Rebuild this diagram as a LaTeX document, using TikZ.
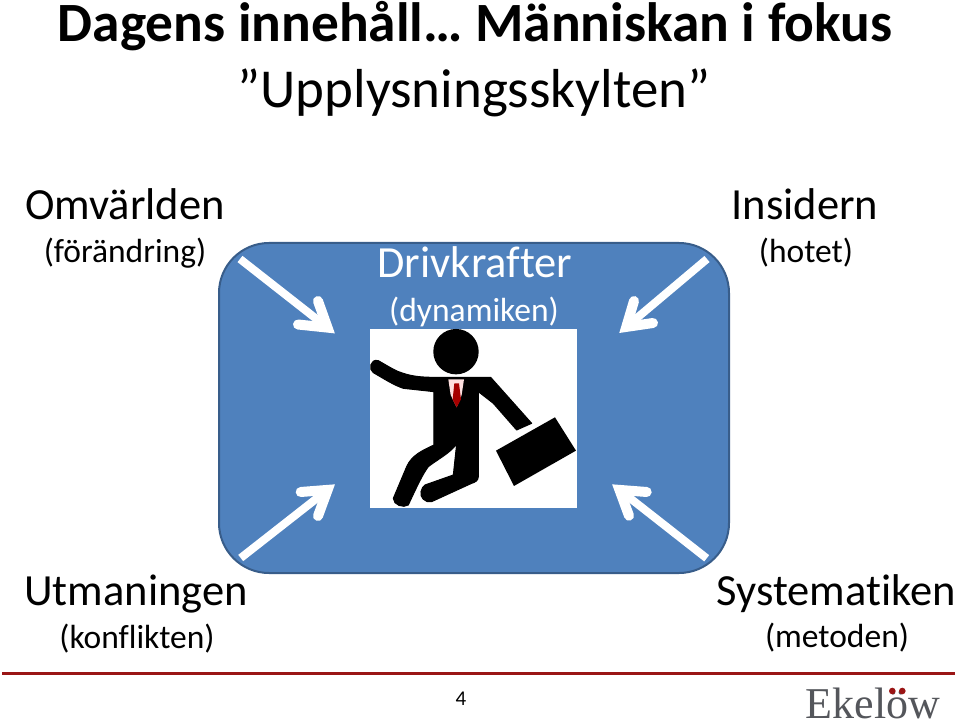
\documentclass[tikz,border=0pt]{standalone}
\usepackage{fontspec}
\setmainfont[Ligatures=NoCommon]{Carlito}
\newfontfamily\logofont{Liberation Serif}
\definecolor{panelfill}{HTML}{4F81BD}
\definecolor{paneledge}{HTML}{385D8A}
\definecolor{rulered}{HTML}{9A1515}
\definecolor{logogray}{HTML}{54565B}
\tikzset{
  px/.style={x=1pt,y=-1pt},
  txt/.style={inner sep=0pt,anchor=base,text=black},
  bigl/.style={txt,font=\fontsize{44.5}{44.5}\selectfont},
  smalll/.style={txt,font=\fontsize{33.5}{33.5}\selectfont},
  shaft/.style={draw=white,line width=8pt,line cap=butt},
  barbs/.style={draw=white,line width=10pt,line cap=round,line join=miter,miter limit=10},
}
\begin{document}
\begin{tikzpicture}[px]
\useasboundingbox (0,0) rectangle (959,722);
\fill[white] (0,0) rectangle (959,722);
\node[txt,font=\fontsize{55.4}{55.4}\selectfont\bfseries] (title) at (475,42) {Dagens innehåll… Människan i fokus};
\node[txt,font=\fontsize{54.9}{54.9}\selectfont] (sub) at (474,108) {”Upplysningsskylten”};
\node[draw=paneledge,fill=panelfill,line width=2pt,rounded corners=50pt,minimum width=510pt,minimum height=330pt,inner sep=0pt] (panel) at (474,408) {};
\node[bigl] (a1) at (125,220) {Omvärlden};
\node[smalll] (a2) at (125,263) {(förändring)};
\node[bigl] (b1) at (805,220) {Insidern};
\node[smalll] (b2) at (806,263) {(hotet)};
\node[bigl,text=white] (c1) at (475,278) {Drivkrafter};
\node[smalll,text=white] (c2) at (474,321) {(dynamiken)};
\node[bigl] (d1) at (136,605) {Utmaningen};
\node[smalll] (d2) at (137,648) {(konflikten)};
\node[bigl] (e1) at (836,605) {Systematiken};
\node[smalll] (e2) at (837,647) {(metoden)};
% arrows
\coordinate (s1) at (240,259); \coordinate (t1) at (327.5,327.6);
\coordinate (p1) at (318,301); \coordinate (q1) at (298,324.5);
\coordinate (s2) at (707,259); \coordinate (t2) at (626.3,326.9);
\coordinate (p2) at (634,301); \coordinate (q2) at (653,323);
\coordinate (s3) at (240.7,558); \coordinate (t3) at (327.6,489.9);
\coordinate (p3) at (300.7,492); \coordinate (q3) at (318,516);
\coordinate (s4) at (706.7,558.3); \coordinate (t4) at (619.5,489.9);
\coordinate (p4) at (646.7,492); \coordinate (q4) at (629,515.7);
\foreach \i in {1,2,3,4}{
  \draw[shaft] (s\i) -- (t\i);
  \draw[barbs] (p\i) -- (t\i) -- (q\i);
}
% figure
\fill[white] (370,329) rectangle (577,508);
\begin{scope}[shift={(360,320)},x=0.3333pt,y=-0.3333pt]
  \fill[black] (288,95) circle (22.7pt);
  \filldraw[black,line width=1pt,line join=round]
    (55,122) .. controls (90,142) and (110,155) .. (130,160) .. controls (160,170) and (190,172) .. (225,172)
    -- (392,172) -- (515,310) -- (470,330) -- (400,250) -- (355,215) -- (355,470)
    .. controls (355,482) and (345,487) .. (335,490) -- (215,545)
    .. controls (195,550) and (178,530) .. (183,515) .. controls (185,505) and (190,498) .. (195,495)
    -- (280,465) -- (290,372)
    .. controls (270,400) and (230,420) .. (205,440) .. controls (190,460) and (175,490) .. (145,555)
    .. controls (130,565) and (100,555) .. (100,535)
    -- (140,440) .. controls (155,405) and (190,390) .. (222,375)
    -- (222,215) -- (130,205) .. controls (100,195) and (70,175) .. (40,158)
    .. controls (25,150) and (30,115) .. (55,122) -- cycle;
  \fill[white!88!red] (265,178) -- (312,178) -- (305,225) -- (290,262) -- (272,225) -- cycle;
  \fill[red!65!black] (283,190) -- (297,190) -- (303,238) -- (290,262) -- (278,238) -- cycle;
  \fill[black] (408,392) -- (585,292) -- (648,392) -- (462,498) -- cycle;
  \draw[white,line width=1.5pt] (482,345) .. controls (488,325) and (505,320) .. (518,325);
\end{scope}
% footer
\coordinate (r1) at (2,673); \coordinate (r2) at (955,673);
\draw[rulered,line width=3pt] (r1) -- (r2);
\node[txt,font=\fontsize{21}{21}\selectfont] (pg) at (461,705) {4};
\node[txt,font=\logofont\fontsize{44}{44}\selectfont,text=logogray] (logo) at (873,718) {Ekelöw};
\fill[rulered] (892.3,691) circle (3.3pt) (902.3,691) circle (3.3pt);
\end{tikzpicture}
\end{document}
